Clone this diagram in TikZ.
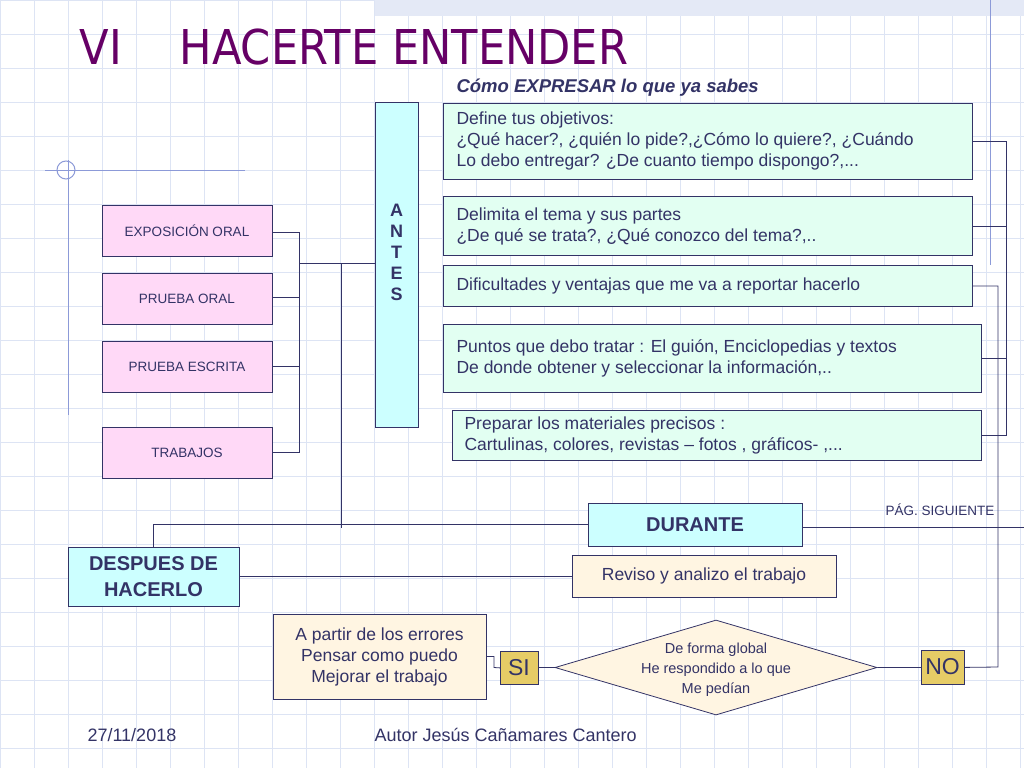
\documentclass[tikz,border=0pt]{standalone}
\usepackage{fontspec}
\setmainfont{Liberation Sans}
\newfontfamily\titlefont{DejaVu Sans Condensed}
\usetikzlibrary{shapes.geometric}
\definecolor{ink}{HTML}{333366}
\definecolor{gridc}{HTML}{DDE4F4}
\definecolor{cyanf}{HTML}{CCFFFF}
\definecolor{greenf}{HTML}{E2FFF2}
\definecolor{pinkf}{HTML}{FFD9F7}
\definecolor{creamf}{HTML}{FFF5E2}
\definecolor{goldf}{HTML}{E6CC66}
\definecolor{purp}{HTML}{660066}
\definecolor{deco}{HTML}{8C9AD8}
\tikzset{
 bx/.style={draw=ink,line width=0.8pt,text=ink,inner sep=0pt,anchor=north west},
 lk/.style={draw=ink,line width=0.8pt},
 fs/.style={font=\fontsize{17.5}{21}\selectfont},
}
\newcommand{\bxat}[7]{\node[bx,fill=#5,minimum width=#3-#1,minimum height=#4-#2,#6] (#7) at (#1,#2) {};}
\begin{document}
\begin{tikzpicture}[x=1pt,y=-1pt]
\useasboundingbox (0,0) rectangle (1024,768);
\fill[white] (0,0) rectangle (1024,768);
\foreach \i in {0,34,...,1024} \draw[gridc,line width=0.5pt] (\i,0) -- (\i,768);
\foreach \j in {0,34,...,768} \draw[gridc,line width=0.5pt] (0,\j) -- (1024,\j);
\fill[gridc!80] (375,0) rectangle (1024,16);
% decorations
\draw[deco,line width=1pt] (990,0) -- (990,265);
\draw[deco,line width=1pt] (68,160) -- (68,415);
\draw[deco,line width=1pt] (45,170) -- (245,170);
\draw[deco,line width=1pt] (66,170) circle (9);
% title
\node[anchor=west,text=purp,font=\titlefont\fontsize{48}{50}\selectfont] (title) at (76,47) {VI\hspace{58pt}HACERTE ENTENDER};
\node[anchor=west,text=ink,font=\fontsize{18.5}{20}\selectfont\bfseries\itshape] (sub) at (453,88) {Cómo EXPRESAR lo que ya sabes};
% boxes
\bxat{375}{102}{418}{427}{cyanf}{}{antes}
\node[text=ink,font=\fontsize{18}{21}\selectfont\bfseries,align=center] (antesT) at (396.5,252) {A\\N\\T\\E\\S};
\bxat{443}{103}{972}{179}{greenf}{}{b1}
\node[anchor=west,text=ink,fs,align=left] at (453,141) {Define tus objetivos:\\¿Qué hacer?, ¿quién lo pide?,¿Cómo lo quiere?, ¿Cuándo\\Lo debo entregar? ¿De cuanto tiempo dispongo?,...};
\bxat{443}{196}{972}{255}{greenf}{}{b2}
\node[anchor=west,text=ink,fs,align=left] at (453,226) {Delimita el tema y sus partes\\¿De qué se trata?, ¿Qué conozco del tema?,..};
\bxat{443}{265}{972}{306}{greenf}{}{b3}
\node[anchor=west,text=ink,fs,align=left] at (453,286) {Dificultades y ventajas que me va a reportar hacerlo};
\bxat{443}{324}{981}{392}{greenf}{}{b4}
\node[anchor=west,text=ink,fs,align=left] at (453,358) {Puntos que debo tratar : El guión, Enciclopedias y textos\\De donde obtener y seleccionar la  información,..};
\bxat{452}{410}{981}{460}{greenf}{}{b5}
\node[anchor=west,text=ink,fs,align=left] at (461,435) {Preparar los materiales precisos :\\Cartulinas, colores, revistas – fotos , gráficos- ,...};
% left pink
\bxat{102}{205}{272}{256}{pinkf}{}{p1}
\node[text=ink,font=\fontsize{13.5}{15}\selectfont] at (187,230.5) {EXPOSICIÓN ORAL};
\bxat{102}{273}{272}{324}{pinkf}{}{p2}
\node[text=ink,font=\fontsize{13.5}{15}\selectfont] at (187,298.5) {PRUEBA ORAL};
\bxat{102}{341}{272}{392}{pinkf}{}{p3}
\node[text=ink,font=\fontsize{13.5}{15}\selectfont] at (187,366.5) {PRUEBA ESCRITA};
\bxat{102}{427}{272}{478}{pinkf}{}{p4}
\node[text=ink,font=\fontsize{13.5}{15}\selectfont] at (187,452.5) {TRABAJOS};
% lower
\bxat{588}{503}{802}{546}{cyanf}{}{dur}
\node[text=ink,font=\fontsize{20}{22}\selectfont\bfseries] at (695,524.5) {DURANTE};
\bxat{68}{547}{239}{606}{cyanf}{}{desp}
\node[text=ink,font=\fontsize{20}{26}\selectfont\bfseries,align=center] at (153.5,576.5) {DESPUES DE\\HACERLO};
\bxat{572}{555}{836}{597}{creamf}{}{rev}
\node[text=ink,fs] at (704,576) {Reviso y analizo el trabajo};
\bxat{273}{614}{486}{699}{creamf}{}{apar}
\node[text=ink,fs,align=center] at (379.5,656.5) {A partir de los errores\\Pensar como puedo\\Mejorar el trabajo};
\bxat{500}{651}{538}{684}{goldf}{}{si}
\node[text=ink,font=\fontsize{23}{24}\selectfont] at (519,667.5) {SI};
\bxat{921}{650}{964}{684}{goldf}{}{no}
\node[text=ink,font=\fontsize{23}{24}\selectfont] at (942.5,667) {NO};
\node[diamond,draw=ink,line width=0.8pt,fill=creamf,aspect=3.3,minimum width=322,minimum height=95,inner sep=0pt] (dia) at (716,667.5) {};
\node[text=ink,font=\fontsize{14.5}{20}\selectfont,align=center] at (716,669.5) {De forma global\\He respondido a lo que\\Me pedían};
\node[anchor=east,text=ink,font=\fontsize{13.5}{15}\selectfont] (pag) at (998,510) {PÁG. SIGUIENTE};
\node[anchor=west,text=ink,font=\fontsize{18}{20}\selectfont] (fecha) at (84,735) {27/11/2018};
\node[anchor=west,text=ink,font=\fontsize{18}{20}\selectfont] (autor) at (371,735) {Autor Jesús Cañamares Cantero};
% connectors left
\coordinate (bl) at (299,263);
\draw[lk] (p1.east |- 0,232) -| (bl);
\draw[lk] (p2.east |- 0,297) -- (299,297);
\draw[lk] (p3.east |- 0,366) -- (299,366);
\draw[lk] (p4.east |- 0,452) -| (bl);
\draw[lk] (bl) -- (antes.west |- bl);
\draw[lk] (341,263) -- (341,528);
\draw[lk] (desp.north -| 153,0) |- (dur.west |- 0,524);
\draw[lk] (desp.east |- 0,576) -- (rev.west |- 0,576);
\draw[lk] (dur.east |- 0,527) -- (1024,527);
% right connectors
\draw[lk] (b1.east |- 0,141) -| (1006,435) -- (b5.east |- 0,435);
\draw[lk] (b2.east |- 0,226) -- (1006,226);
\draw[lk] (b4.east |- 0,358) -- (1006,358);
\draw[lk] (b3.east |- 0,286) -| (998,667) -- (no.east);
\draw[lk] (no.west) -- (dia.east);
\draw[lk] (dia.west) -- (si.east |- dia.west);
\draw[lk] (si.west) -- (494,667.5) -- (494,656.5) -- (apar.east |- 0,656.5);
\end{tikzpicture}
\end{document}
